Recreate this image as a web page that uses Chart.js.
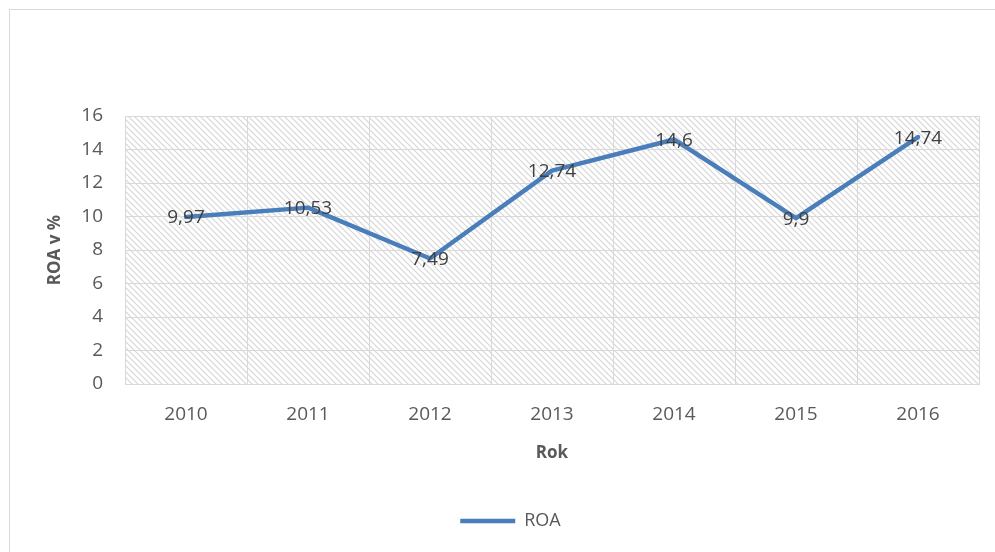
<!DOCTYPE html>
<html>
<head>
<meta charset="utf-8">
<script src="https://cdn.jsdelivr.net/npm/chart.js@4/dist/chart.umd.min.js"></script>
<style>
  html, body { margin: 0; padding: 0; background: #ffffff; }
  #wrap { width: 995px; height: 552px; }
</style>
</head>
<body>
<div id="wrap"><canvas id="roaChart" width="995" height="552"></canvas></div>
<script>
// Rentabilita aktiv podle let
var years = ['2010', '2011', '2012', '2013', '2014', '2015', '2016'];
var roaValues = [9.97, 10.53, 7.49, 12.74, 14.6, 9.9, 14.74];
var yTicks = [0, 2, 4, 6, 8, 10, 12, 14, 16];

var lineColor = '#4a7ebb';
var gridColor = '#d9d9d9';
var fontFamily = "'Open Sans', 'Noto Sans', sans-serif";

// Diagonal hatch for the plot area
function makeHatch(){
  var c = document.createElement('canvas');
  c.width = 6;
  c.height = 6;
  var g = c.getContext('2d');
  g.strokeStyle = '#d6d6d6';
  g.lineWidth = 1.2;
  g.beginPath();
  g.moveTo(-1, -1); g.lineTo(7, 7);
  g.moveTo(-4, 2); g.lineTo(4, 10);
  g.moveTo(2, -4); g.lineTo(10, 4);
  g.stroke();
  return g.createPattern(c, 'repeat');
}

// Outer frame and hatched background
var backdrop = {
  id: 'backdrop',
  beforeDraw: function(chart){
    var ctx = chart.ctx;
    var a = chart.chartArea;
    ctx.save();
    ctx.fillStyle = '#ffffff';
    ctx.fillRect(0, 0, chart.width, chart.height);
    ctx.strokeStyle = '#d9d9d9';
    ctx.lineWidth = 1;
    ctx.strokeRect(9.5, 9.5, chart.width, chart.height);
    ctx.fillStyle = makeHatch();
    ctx.fillRect(a.left, a.top, a.right - a.left, a.bottom - a.top);
    ctx.restore();
  }
};

// Value labels centred on each point, decimal comma
var valueLabels = {
  id: 'valueLabels',
  afterDatasetsDraw: function(chart){
    var ctx = chart.ctx;
    var meta = chart.getDatasetMeta(0);
    ctx.save();
    ctx.font = '19px ' + fontFamily;
    ctx.fillStyle = '#404040';
    ctx.textAlign = 'center';
    ctx.textBaseline = 'middle';
    meta.data.forEach(function(pt, i){
      var txt = String(roaValues[i]).replace('.', ',');
      ctx.fillText(txt, pt.x, pt.y + 1);
    });
    ctx.restore();
  }
};

new Chart(document.getElementById('roaChart'), {
  type: 'line',
  data: {
    labels: years,
    datasets: [{
      label: 'ROA',
      data: roaValues,
      borderColor: lineColor,
      backgroundColor: lineColor,
      borderWidth: 4.5,
      borderCapStyle: 'round',
      borderJoinStyle: 'round',
      pointRadius: 0,
      pointHoverRadius: 0,
      tension: 0
    }]
  },
  options: {
    responsive: false,
    animation: false,
    events: [],
    layout: { padding: { left: 42, right: 16, top: 116, bottom: 12 } },
    scales: {
      x: {
        offset: true,
        grid: { offset: true, color: gridColor, lineWidth: 1, drawTicks: false },
        border: { color: gridColor, width: 1 },
        ticks: { color: '#595959', font: { family: fontFamily, size: 19 }, padding: 19 },
        title: { display: true, text: 'Rok', color: '#595959', font: { family: fontFamily, size: 17, weight: 'bold' }, padding: { top: 4, bottom: 37 } },
        afterFit: function(scale){ scale.height = 116; }
      },
      y: {
        min: 0,
        max: 16,
        afterBuildTicks: function(scale){ scale.ticks = yTicks.map(function(v){ return { value: v }; }); },
        grid: { color: gridColor, lineWidth: 1, drawTicks: false },
        border: { display: false },
        ticks: { color: '#595959', font: { family: fontFamily, size: 19 }, padding: 22 },
        title: { display: true, text: 'ROA v %', color: '#595959', font: { family: fontFamily, size: 17, weight: 'bold' }, padding: { top: 3 } },
        afterFit: function(scale){ scale.width = 83; }
      }
    },
    plugins: {
      legend: {
        position: 'bottom',
        labels: {
          usePointStyle: true,
          pointStyle: 'line',
          pointStyleWidth: 55,
          color: '#595959',
          font: { family: fontFamily, size: 18 },
          padding: 12
        }
      },
      tooltip: { enabled: false }
    }
  },
  plugins: [backdrop, valueLabels]
});
</script>
</body>
</html>
